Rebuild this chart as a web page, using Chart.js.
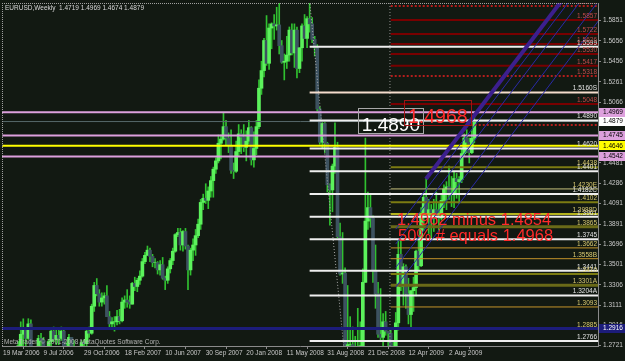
<!DOCTYPE html>
<html>
<head>
<meta charset="utf-8">
<title>EURUSD Weekly</title>
<script src="https://cdn.jsdelivr.net/npm/chart.js@4.4.1/dist/chart.umd.min.js"></script>
<style>
  html, body { margin: 0; padding: 0; background: #121912; overflow: hidden; }
  canvas { display: block; }
</style>
</head>
<body>
<canvas id="chart" width="625" height="361"></canvas>
<script>
// Weekly EURUSD bars, bar 0 is the week of 19 Mar 2006
const highs = [
  1.2240,1.2160,1.2310,1.2200,1.2380,1.2640,1.2760,1.2950,1.2979,1.2880,
  1.2980,1.2970,1.2690,1.2640,1.2820,1.2840,1.2800,1.2690,1.2780,1.2880,
  1.2900,1.2880,1.2880,1.2900,1.2880,1.2750,1.2830,1.2800,1.2770,1.2620,
  1.2650,1.2770,1.2780,1.2880,1.2900,1.3120,1.3330,1.3367,1.3260,1.3230,
  1.3230,1.3300,1.3050,1.2990,1.3000,1.3060,1.3070,1.3180,1.3200,1.3260,
  1.3200,1.3330,1.3380,1.3370,1.3440,1.3560,1.3620,1.3680,1.3660,1.3600,
  1.3560,1.3530,1.3540,1.3570,1.3390,1.3480,1.3560,1.3660,1.3800,1.3850,
  1.3850,1.3830,1.3850,1.3690,1.3660,1.3750,1.3840,1.3940,1.4130,1.4180,
  1.4280,1.4250,1.4350,1.4440,1.4530,1.4750,1.4750,1.4967,1.4890,1.4770,
  1.4800,1.4480,1.4690,1.4850,1.4800,1.4850,1.4790,1.4890,1.4830,1.4780,
  1.4890,1.5280,1.5460,1.5680,1.5900,1.5820,1.5830,1.5910,1.5980,1.6019,
  1.5660,1.5530,1.5700,1.5790,1.5820,1.5820,1.5790,1.5590,1.5820,1.5910,
  1.5890,1.6038,1.5880,1.5700,1.5620,1.5020,1.4870,1.4870,1.4680,1.4280,
  1.4470,1.4867,1.4680,1.3900,1.3810,1.3470,1.3300,1.3000,1.2900,1.2810,
  1.3080,1.2950,1.3460,1.4720,1.4200,1.4170,1.3970,1.3690,1.3330,1.3270,
  1.3030,1.3050,1.2860,1.2890,1.2770,1.3040,1.3740,1.3730,1.3510,1.3500,
  1.3370,1.3250,1.3380,1.3640,1.3740,1.4050,1.4170,1.4340,1.4130,1.4080,
  1.4130,1.4200,1.4090,1.4170,1.4270,1.4300,1.4450,1.4350,1.4390,1.4380,
  1.4350,1.4620,1.4760,1.4800,1.4720,1.4790,1.4969
];
const lows = [
  1.2020,1.2000,1.2050,1.2080,1.2120,1.2330,1.2550,1.2700,1.2690,1.2700,
  1.2780,1.2600,1.2520,1.2460,1.2480,1.2700,1.2580,1.2480,1.2560,1.2700,
  1.2760,1.2730,1.2730,1.2770,1.2720,1.2650,1.2660,1.2640,1.2600,1.2480,
  1.2490,1.2520,1.2690,1.2700,1.2800,1.2830,1.3050,1.3200,1.3100,1.3100,
  1.3120,1.3000,1.2900,1.2880,1.2860,1.2920,1.2930,1.2950,1.3080,1.3090,
  1.3080,1.3120,1.3250,1.3240,1.3310,1.3380,1.3510,1.3590,1.3530,1.3480,
  1.3470,1.3410,1.3400,1.3360,1.3260,1.3320,1.3420,1.3500,1.3620,1.3770,
  1.3640,1.3630,1.3650,1.3260,1.3400,1.3540,1.3590,1.3760,1.3840,1.4030,
  1.4090,1.4040,1.4150,1.4150,1.4380,1.4480,1.4520,1.4700,1.4650,1.4580,
  1.4380,1.4330,1.4390,1.4550,1.4570,1.4590,1.4500,1.4660,1.4460,1.4440,
  1.4560,1.4810,1.5140,1.5310,1.5420,1.5380,1.5580,1.5670,1.5760,1.5530,
  1.5440,1.5280,1.5390,1.5460,1.5520,1.5400,1.5300,1.5350,1.5460,1.5680,
  1.5590,1.5740,1.5640,1.5510,1.4980,1.4660,1.4620,1.4580,1.4200,1.3880,
  1.4010,1.4380,1.3760,1.3400,1.3320,1.2480,1.2330,1.2520,1.2430,1.2420,
  1.2560,1.2550,1.2700,1.3330,1.3840,1.3860,1.3330,1.3080,1.2800,1.2760,
  1.2710,1.2820,1.2510,1.2570,1.2460,1.2650,1.2870,1.3250,1.3110,1.3080,
  1.2930,1.2890,1.3050,1.3200,1.3450,1.3480,1.3830,1.3970,1.3800,1.3750,
  1.3820,1.3990,1.3830,1.3930,1.4050,1.4030,1.4130,1.4060,1.4050,1.4140,
  1.4090,1.4290,1.4550,1.4580,1.4480,1.4570,1.4674
];
const closes = [
  1.2120,1.2110,1.2110,1.2130,1.2340,1.2620,1.2720,1.2830,1.2870,1.2790,
  1.2930,1.2620,1.2610,1.2510,1.2790,1.2770,1.2610,1.2670,1.2760,1.2860,
  1.2780,1.2820,1.2790,1.2860,1.2720,1.2690,1.2800,1.2680,1.2610,1.2550,
  1.2620,1.2750,1.2740,1.2860,1.2840,1.3100,1.3300,1.3220,1.3140,1.3180,
  1.3200,1.3000,1.2930,1.2950,1.2950,1.3000,1.2960,1.3140,1.3160,1.3140,
  1.3120,1.3320,1.3290,1.3350,1.3390,1.3530,1.3590,1.3640,1.3580,1.3520,
  1.3520,1.3450,1.3500,1.3370,1.3350,1.3460,1.3540,1.3630,1.3790,1.3810,
  1.3690,1.3820,1.3680,1.3450,1.3640,1.3690,1.3780,1.3890,1.4100,1.4140,
  1.4120,1.4210,1.4310,1.4420,1.4500,1.4670,1.4710,1.4830,1.4720,1.4650,
  1.4410,1.4400,1.4590,1.4760,1.4730,1.4630,1.4690,1.4820,1.4510,1.4620,
  1.4830,1.5200,1.5370,1.5660,1.5440,1.5780,1.5820,1.5800,1.5810,1.5610,
  1.5450,1.5460,1.5520,1.5760,1.5540,1.5760,1.5390,1.5590,1.5800,1.5680,
  1.5870,1.5820,1.5670,1.5590,1.5000,1.4680,1.4860,1.4670,1.4270,1.4220,
  1.4450,1.4630,1.3770,1.3410,1.3420,1.2700,1.2730,1.2730,1.2550,1.2580,
  1.2690,1.2720,1.3330,1.3920,1.4050,1.3950,1.3440,1.3220,1.2830,1.2800,
  1.2950,1.2860,1.2840,1.2670,1.2670,1.2940,1.3600,1.3290,1.3480,1.3220,
  1.3020,1.3250,1.3280,1.3630,1.3490,1.3990,1.4150,1.3970,1.4030,1.3950,
  1.4030,1.3960,1.3950,1.4120,1.4230,1.4250,1.4180,1.4190,1.4330,1.4300,
  1.4320,1.4570,1.4720,1.4680,1.4580,1.4719,1.4879
];
// FX weekly bars open where the previous week closed
const firstOpen = 1.2150;
const opens = [firstOpen].concat(closes.slice(0, -1));

// axis ticks
const xTickWeeks = [0, 16, 32, 48, 64, 80, 96, 112, 128, 144, 160, 176];
const xTickLabels = ['19 Mar 2006', '9 Jul 2006', '29 Oct 2006', '18 Feb 2007', '10 Jun 2007', '30 Sep 2007',
  '20 Jan 2008', '11 May 2008', '31 Aug 2008', '21 Dec 2008', '12 Apr 2009', '2 Aug 2009'];
const yTickValues = [1.5851, 1.5656, 1.5456, 1.5261, 1.5066, 1.4481, 1.4286, 1.4091, 1.3891,
  1.3696, 1.3501, 1.3306, 1.3111, 1.2916, 1.2721];

// drawn objects: horizontal levels
const pinkLevels = [1.4969, 1.4745, 1.4542];
const yellowLevels = [1.4646];
const bidPrice = 1.4879;
const blueLevels = [1.2885];
const whiteFromWeek = 121;   // July 2008 top
const whiteLevels = [1.5599, 1.5160, 1.4890, 1.4620, 1.4401, 1.4182, 1.3961, 1.3745, 1.3441, 1.3204, 1.2766];
const whiteTags = ['1.5599', '1.5160S', '1.4890', '1.4620', '1.4401', '1.4182C', '1.3961', '1.3745', '1.3441', '1.3204A', '1.2766'];
const fibFromWeek = 153;     // March 2009 low
const goldLevels = [1.4438, 1.4230, 1.4102, 1.3988, 1.3865, 1.3662, 1.3558, 1.3410, 1.3301, 1.3093];
const goldTags = ['1.4438', '1.4230E', '1.4102', '1.3988D', '1.3865', '1.3662', '1.3558B', '1.3410', '1.3301A', '1.3093'];
const redLevels = [1.5992, 1.5857, 1.5722, 1.5626, 1.5530, 1.5417, 1.5318, 1.5048];
const redTags = ['1.5992', '1.5857', '1.5722', '1.5626', '1.5530', '1.5417', '1.5318', '1.5048'];
const targetLevel = 1.4846;
const targetFromWeek = 183;

// channel lines (start week, start price, end week, end price)
const channelFromWeek = [166.9, 155, 155, 155, 155];
const channelFromPrice = [1.4325, 1.3843, 1.3701, 1.3474, 1.3285];
const channelToWeek = [226, 236, 236, 236, 236];
const channelToPrice = [1.6220, 1.6440, 1.6298, 1.6071, 1.5882];

// fib trend line top -> low, and vertical marker
const trendWeeks = [121, 136];
const trendPrices = [1.6038, 1.2330];
const markerWeek = 152.7;

// styles
const bgColor = '#121912';
const upBody = '#5cf25c', downBody = '#3d5260', wickColor = '#30c030';
const goldColors = ['#7c7c12', '#c8c27e', '#7c7c12', '#b4b41e', '#6a6a18', '#c4942a', '#c4942a', '#7c7c12', '#6a6a18', '#c4942a'];
const goldWidths = [2, 1, 2, 2, 3, 1, 1, 2, 3, 1];
const tickFont = { family: 'Liberation Sans', size: 6.5 };

const xMin = -0.4, xMax = 234.8;
const yMin = 1.2717, yMax = 1.6021;

const notes = [
  { text: '1.4890', week: 141.6, price: 1.4788, color: '#ffffff', size: 19, box: '#a8a8a8' },
  { text: '1.4968', week: 159.8, price: 1.4865, color: '#ff2a2a', size: 19.5, box: '#a01414' },
  { text: '1.4962 minus 1.4854', week: 155.5, price: 1.3887, color: '#ff2a2a', size: 16.5 },
  { text: '50% # equals 1.4968', week: 155.9, price: 1.3728, color: '#ff2a2a', size: 16.5 }
];

const axisMarks = [
  { price: 1.4969, bg: '#dda0dd', fg: '#000000' },
  { price: 1.4879, bg: '#ffffff', fg: '#000000' },
  { price: 1.4745, bg: '#dda0dd', fg: '#000000' },
  { price: 1.4646, bg: '#ffff00', fg: '#000000' },
  { price: 1.4542, bg: '#dda0dd', fg: '#000000' },
  { price: 1.2885, bg: '#1c1c7a', fg: '#ffffff', text: '1.2916' }
];

// build datasets
const wickData = highs.map((h, i) => ({ x: i, y: [lows[i], h] }));
const bodyData = closes.map((c, i) => ({ x: i, y: [opens[i], c] }));
const bodyColors = closes.map((c, i) => c >= opens[i] ? upBody : downBody);

function hLine(price, from, color, width, dash) {
  return {
    type: 'line',
    data: [{ x: from, y: price }, { x: xMax + 2, y: price }],
    borderColor: color,
    borderWidth: width,
    borderDash: dash || [],
    pointRadius: 0,
    order: 2
  };
}

const datasets = [
  { type: 'bar', data: wickData, backgroundColor: wickColor, barThickness: 1, grouped: false, order: 9 },
  { type: 'bar', data: bodyData, backgroundColor: bodyColors, barThickness: 3, grouped: false, order: 8 }
];

const tags = [];
whiteLevels.forEach((p, i) => {
  datasets.push(hLine(p, whiteFromWeek, i === 1 ? '#f4dccc' : '#eeeeee', 2));
  tags.push({ price: p, text: whiteTags[i], color: '#e4e4e4' });
});
goldLevels.forEach((p, i) => {
  datasets.push(hLine(p, fibFromWeek, goldColors[i], goldWidths[i]));
  tags.push({ price: p, text: goldTags[i], color: '#d8c870' });
});
redLevels.forEach((p, i) => {
  const dotted = i === 0 || i === 6;
  datasets.push(hLine(p, fibFromWeek, dotted ? '#e82020' : '#780000', dotted ? 1.5 : 2, dotted ? [2, 2] : []));
  tags.push({ price: p, text: redTags[i], color: '#c04a4a' });
});
datasets.push(hLine(targetLevel, targetFromWeek, '#e82020', 1.5, [2, 2]));
pinkLevels.forEach(p => datasets.push(hLine(p, xMin, '#dda0dd', 2)));
yellowLevels.forEach(p => datasets.push(hLine(p, xMin, '#ffff00', 2)));
datasets.push(hLine(bidPrice, xMin, '#56686a', 1));
blueLevels.forEach(p => {
  datasets.push(hLine(p, xMin, '#1c1c7a', 3));
  tags.push({ price: p, text: '1.2885', color: '#d8c870' });
});

channelFromWeek.forEach((w, i) => {
  datasets.push({
    type: 'line',
    data: [{ x: w, y: channelFromPrice[i] }, { x: channelToWeek[i], y: channelToPrice[i] }],
    borderColor: i === 0 ? '#3c1f8e' : '#2a2aa6',
    borderWidth: i === 0 ? 4 : 1,
    pointRadius: 0,
    order: 1
  });
});

datasets.push({
  type: 'line',
  data: trendWeeks.map((w, i) => ({ x: w, y: trendPrices[i] })),
  borderColor: '#a8a8a8', borderWidth: 1, borderDash: [1, 2], pointRadius: 0, order: 3
});
datasets.push({
  type: 'line',
  data: [{ x: markerWeek, y: yMin }, { x: markerWeek, y: yMax }],
  borderColor: '#909090', borderWidth: 1, borderDash: [1, 2], pointRadius: 0, order: 3
});

const overlay = {
  id: 'overlay',
  beforeDraw(chart) {
    const c = chart.ctx;
    c.save();
    c.fillStyle = bgColor;
    c.fillRect(0, 0, chart.width, chart.height);
    c.restore();
  },
  afterDatasetsDraw(chart) {
    const { ctx: c, chartArea: a, scales: { x, y } } = chart;
    c.save();
    c.beginPath();
    c.rect(a.left, a.top, a.right - a.left, a.bottom - a.top);
    c.clip();

    c.font = '6.5px "Liberation Sans"';
    c.textAlign = 'right';
    c.textBaseline = 'alphabetic';
    tags.forEach(t => {
      c.fillStyle = t.color;
      c.fillText(t.text, a.right - 1, y.getPixelForValue(t.price) - 2);
    });

    c.textAlign = 'left';
    notes.forEach(n => {
      const px = x.getPixelForValue(n.week);
      const py = y.getPixelForValue(n.price);
      c.font = n.size + 'px "Liberation Sans"';
      const w = c.measureText(n.text).width;
      if (n.box) {
        c.strokeStyle = n.box;
        c.lineWidth = 1;
        c.strokeRect(Math.round(px - 4) + 0.5, Math.round(py - n.size * 1.2) + 0.5, Math.round(w + 7), Math.round(n.size * 1.2 + 2));
      }
      c.fillStyle = n.color;
      c.fillText(n.text, px, py);
    });
    c.restore();
  },
  afterDraw(chart) {
    const { ctx: c, chartArea: a, scales: { y } } = chart;
    c.save();
    // dotted frame on top and left
    c.strokeStyle = '#a0a0a0';
    c.lineWidth = 1;
    c.setLineDash([1, 1]);
    c.beginPath();
    c.moveTo(a.left, a.top + 0.5); c.lineTo(a.right, a.top + 0.5);
    c.moveTo(a.left + 0.5, a.top); c.lineTo(a.left + 0.5, a.bottom);
    c.stroke();
    c.setLineDash([]);

    // price boxes on the right scale
    c.font = '6.5px "Liberation Sans"';
    c.textBaseline = 'middle';
    c.textAlign = 'left';
    axisMarks.forEach(m => {
      const py = y.getPixelForValue(m.price);
      c.fillStyle = m.bg;
      c.fillRect(a.right + 1, Math.round(py - 4.5), chart.width - a.right - 1, 9);
      c.fillStyle = m.fg;
      c.fillText(m.text || m.price.toFixed(4), a.right + 5, py);
    });

    // header and copyright
    c.textBaseline = 'alphabetic';
    c.fillStyle = '#d8d8d8';
    c.fillText('EURUSD,Weekly  1.4719 1.4969 1.4674 1.4879', a.left + 3, a.top + 7);
    c.fillStyle = '#b4b4b4';
    c.fillText('MetaTrader, \u00a9 2001-2008 MetaQuotes Software Corp.', a.left + 2, a.bottom - 2);
    c.restore();
  }
};

const chart = new Chart(document.getElementById('chart'), {
  type: 'bar',
  data: { datasets: datasets },
  options: {
    responsive: false,
    animation: false,
    devicePixelRatio: 1,
    layout: { padding: { top: 3, left: 2, right: 0, bottom: 0 } },
    plugins: { legend: { display: false }, tooltip: { enabled: false } },
    scales: {
      x: {
        type: 'linear',
        min: xMin,
        max: xMax,
        offset: false,
        grid: { drawOnChartArea: false, color: '#8a8a8a', tickLength: 3 },
        border: { color: '#8a8a8a' },
        ticks: {
          autoSkip: false, maxRotation: 0, align: 'start', padding: 0,
          color: '#c8c8c8', font: tickFont,
          callback: (v, i) => xTickLabels[i] || ''
        },
        afterBuildTicks: s => { s.ticks = xTickWeeks.map(v => ({ value: v })); },
        afterFit: s => { s.height = 15; s.paddingLeft = 0; s.paddingRight = 0; }
      },
      y: {
        position: 'right',
        min: yMin,
        max: yMax,
        grid: { drawOnChartArea: false, color: '#8a8a8a', tickLength: 3 },
        border: { color: '#8a8a8a' },
        ticks: {
          autoSkip: false, padding: 2, color: '#c8c8c8', font: tickFont,
          callback: v => v.toFixed(4)
        },
        afterBuildTicks: s => { s.ticks = yTickValues.map(v => ({ value: v })); },
        afterFit: s => { s.width = 27; s.paddingTop = 0; s.paddingBottom = 0; }
      }
    }
  },
  plugins: [overlay]
});
</script>
</body>
</html>
